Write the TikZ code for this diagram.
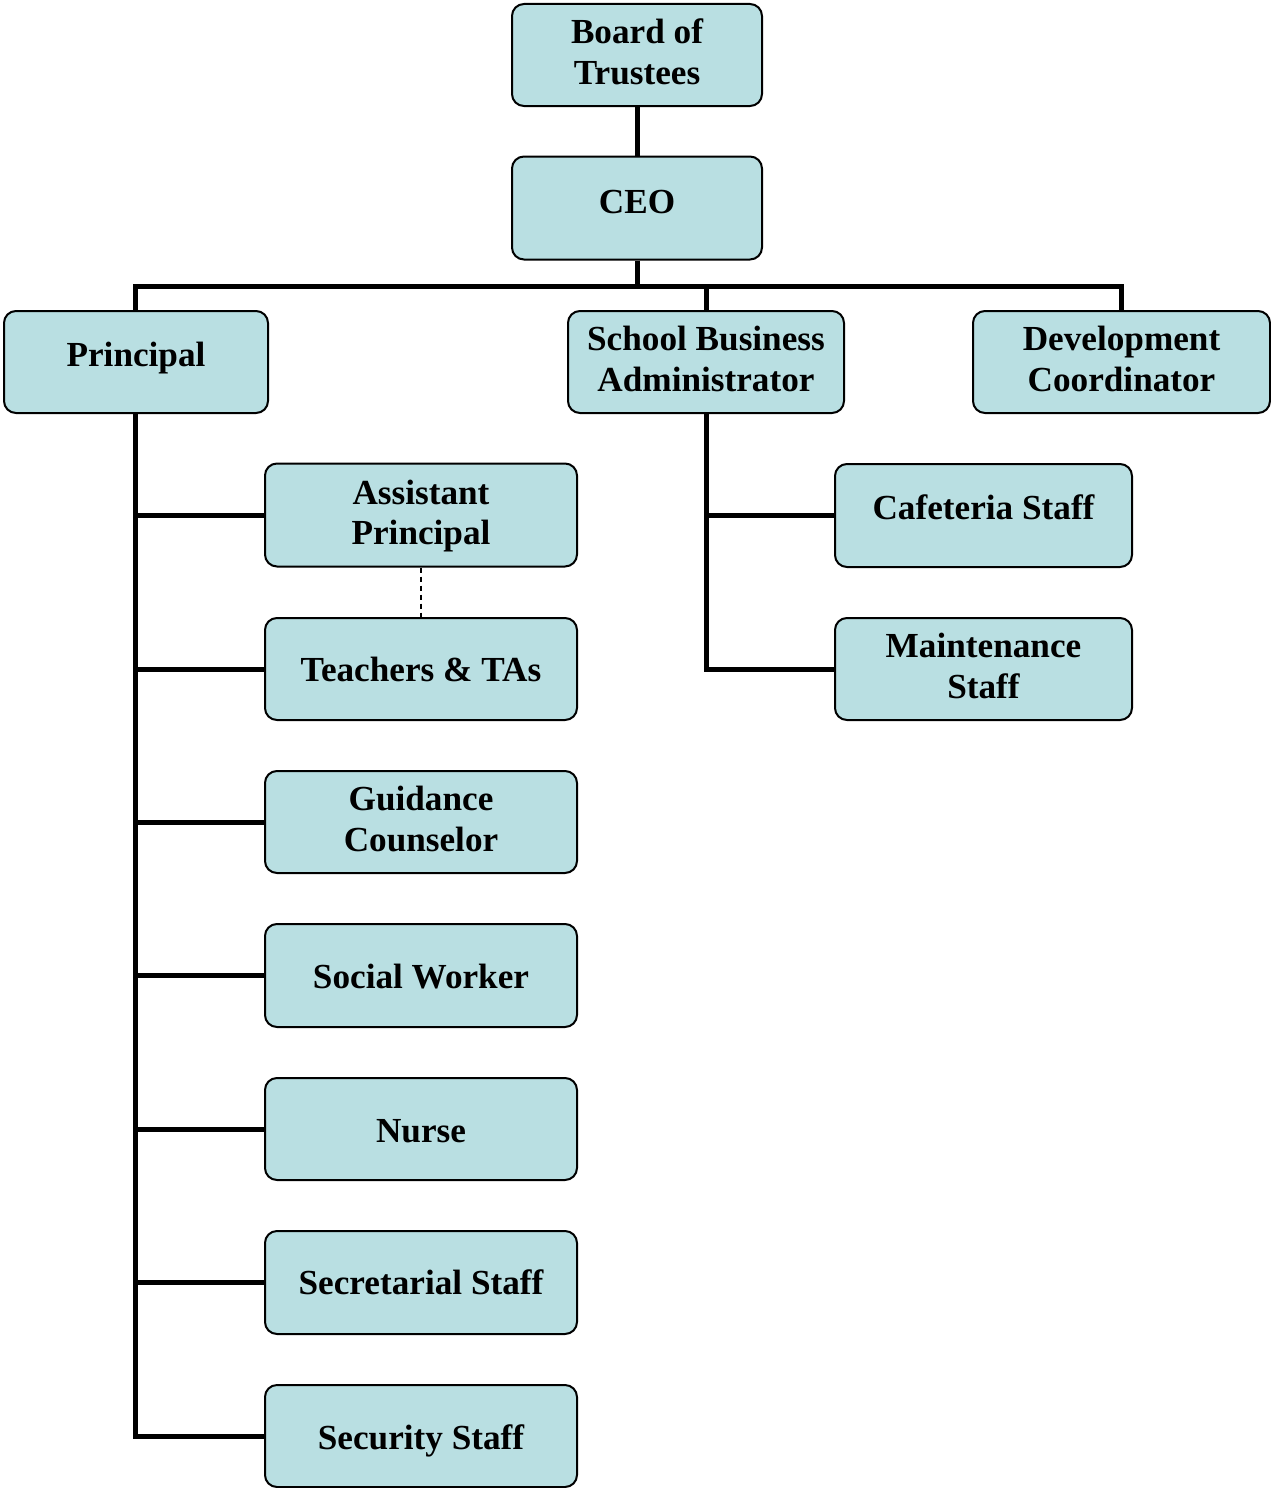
\documentclass[tikz,border=0pt]{standalone}
\usepackage{fontspec}
\setmainfont{Liberation Serif}
\begin{document}
\begin{tikzpicture}[x=1pt,y=-1pt,
  box/.style={draw=black, line width=2pt, rounded corners=12pt, fill=boxfill, inner sep=0pt},
  lbl/.style={font=\fontsize{35.2}{40.5}\selectfont\bfseries, align=center, inner sep=0pt},
  conn/.style={line width=5pt}]
\definecolor{boxfill}{HTML}{B9DFE2}
\useasboundingbox (0,0) rectangle (1271,1488);
\node[box, minimum width=250pt, minimum height=102pt, label={[lbl,yshift=3pt]center:{Board of\\Trustees}}] (board) at (637,55) {};
\node[box, minimum width=250pt, minimum height=103pt, label={[lbl,yshift=6pt]center:CEO}] (ceo) at (637,208) {};
\node[box, minimum width=264pt, minimum height=102pt, label={[lbl,yshift=4pt]center:Principal}] (prin) at (136,362) {};
\node[box, minimum width=276pt, minimum height=102pt, label={[lbl,yshift=3pt]center:{School Business\\Administrator}}] (sba) at (706,362) {};
\node[box, minimum width=297pt, minimum height=102pt, label={[lbl,yshift=3pt]center:{Development\\Coordinator}}] (dev) at (1121.5,362) {};
\node[box, minimum width=312pt, minimum height=103pt, label={[lbl,yshift=-1pt]center:{Assistant\\Principal}}] (ap) at (421,515) {};
\node[box, minimum width=312pt, minimum height=102pt, label={[lbl]center:{Teachers \& TAs}}] (tea) at (421,669) {};
\node[box, minimum width=312pt, minimum height=102pt, label={[lbl,yshift=3pt]center:{Guidance\\Counselor}}] (gui) at (421,822) {};
\node[box, minimum width=312pt, minimum height=103pt, label={[lbl,yshift=-1pt]center:{Social Worker}}] (soc) at (421,975.5) {};
\node[box, minimum width=312pt, minimum height=102pt, label={[lbl,yshift=-2pt]center:Nurse}] (nur) at (421,1129) {};
\node[box, minimum width=312pt, minimum height=103pt, label={[lbl]center:{Secretarial Staff}}] (sec) at (421,1282.5) {};
\node[box, minimum width=312pt, minimum height=102pt, label={[lbl,yshift=-5pt]center:{Security Staff}}] (secu) at (421,1436) {};
\node[box, minimum width=297pt, minimum height=103pt, label={[lbl,yshift=8pt]center:{Cafeteria Staff}}] (caf) at (983.5,515.5) {};
\node[box, minimum width=297pt, minimum height=102pt, label={[lbl,yshift=3pt]center:{Maintenance\\Staff}}] (mai) at (983.5,669) {};
\coordinate (bus) at (637,286);
\draw[conn] (board.south) -- (ceo.north);
\draw[conn] (ceo.south) -- (bus);
\draw[conn] (prin.north -| 135,0) |- (bus) -| (dev.north);
\draw[conn] (bus) -| (sba.north);
\draw[conn] (prin.south -| 135,0) |- (secu.west);
\foreach \n in {ap,tea,gui,soc,nur,sec} \draw[conn] (135,0 |- \n.west) -- (\n.west);
\draw[conn] (sba.south) |- (mai.west);
\draw[conn] (sba.south |- caf.west) -- (caf.west);
\draw[line width=1.2pt, dash pattern=on 5pt off 4pt] (ap.south) -- (tea.north);
\end{tikzpicture}
\end{document}
